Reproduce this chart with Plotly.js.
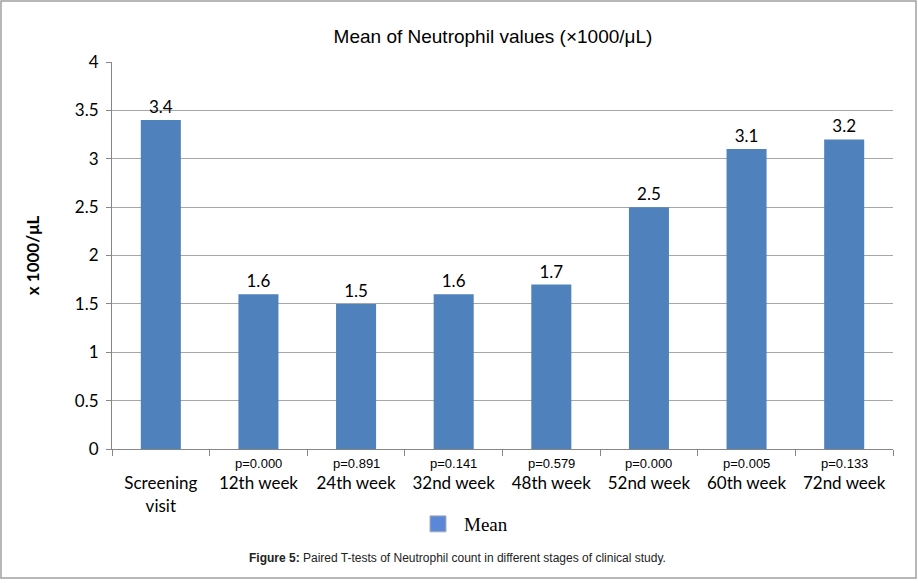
<!DOCTYPE html>
<html>
<head>
<meta charset="utf-8">
<script src="https://cdn.plot.ly/plotly-3.0.1.min.js"></script>
<style>html,body{margin:0;padding:0;background:#fff;}#chart{width:918px;height:583px;}</style>
</head>
<body>
<div id="chart"></div>
<script>
const categories = ["Screening visit", "12th week", "24th week", "32nd week", "48th week", "52nd week", "60th week", "72nd week"];
const meanValues = [3.4, 1.6, 1.5, 1.6, 1.7, 2.5, 3.1, 3.2];
const pValues = ["", "p=0.000", "p=0.891", "p=0.141", "p=0.579", "p=0.000", "p=0.005", "p=0.133"];
const tickLabels = ["Screening<br>visit", "12th week", "24th week", "32nd week", "48th week", "52nd week", "60th week", "72nd week"];
const yTicks = [0, 0.5, 1, 1.5, 2, 2.5, 3, 3.5, 4];

const L = 112, R = 893, T = 62, B = 449;
const px = x => (x - L) / (R - L);
const py = y => (B - y) / (B - T);

const barTrace = {
  type: "bar",
  x: categories,
  y: meanValues,
  name: "Mean",
  showlegend: false,
  marker: {color: "#4f81bd"},
  text: meanValues.map(v => v.toFixed(1)),
  textposition: "outside",
  textfont: {family: "Lato, Carlito, sans-serif", size: 17, color: "#000"},
  cliponaxis: false
};

const legendTrace = {
  type: "scatter", mode: "markers",
  x: [null], y: [null],
  name: "Mean",
  showlegend: true,
  marker: {symbol: "square", size: 19, color: "#5b87d9", line: {color: "#b0b0b0", width: 1}}
};

const pAnnotations = categories.map((c, i) => ({
  xref: "x", yref: "paper", x: c, y: py(463), xanchor: "center", yanchor: "middle",
  showarrow: false, text: pValues[i],
  font: {family: "Arial, Liberation Sans", size: 13, color: "#000"}
})).filter(a => a.text);

const layout = {
  width: 918, height: 583,
  margin: {l: L, r: 918 - R, t: T, b: 583 - B},
  paper_bgcolor: "#fff", plot_bgcolor: "#fff",
  bargap: 0.59,
  showlegend: true,
  title: {text: "Mean of Neutrophil values (×1000/μL)", font: {family: "Arial, Liberation Sans", size: 19, color: "#000"},
          x: 493/918, xanchor: "center", y: 1 - 36/583, yanchor: "middle", xref: "container", yref: "container"},
  xaxis: {
    type: "category",
    tickmode: "array", tickvals: categories, ticktext: tickLabels,
    tickson: "boundaries", ticks: "outside", ticklen: 6, tickcolor: "#868686",
    ticklabelstandoff: 19,
    showline: true, linecolor: "#868686", linewidth: 1,
    tickfont: {family: "Lato, Carlito, sans-serif", size: 17, color: "#000"},
    showgrid: false, zeroline: false, automargin: false
  },
  yaxis: {
    range: [0, 4], tickvals: yTicks, ticktext: yTicks.map(String),
    ticks: "outside", ticklen: 5, tickcolor: "#868686",
    ticklabelstandoff: 4,
    showline: true, linecolor: "#868686", linewidth: 1,
    showgrid: true, gridcolor: "#a6a6a6", gridwidth: 1, zeroline: false,
    tickfont: {family: "Lato, Carlito, sans-serif", size: 17, color: "#000"},
    title: {text: "<b>x 1000/μL</b>", font: {family: "Lato, Carlito, sans-serif", size: 17, color: "#000"}, standoff: 30},
    automargin: false
  },
  legend: {orientation: "h", x: px(412), xanchor: "left", y: py(524), yanchor: "middle",
           font: {family: "Liberation Serif, Times New Roman, serif", size: 19, color: "#000"}, itemwidth: 42},
  annotations: pAnnotations.concat([{
    xref: "paper", yref: "paper", x: px(457), y: py(558), xanchor: "center", yanchor: "middle", showarrow: false,
    text: "<b>Figure 5:</b> Paired T-tests of Neutrophil count in different stages of clinical study.",
    font: {family: "Arial, Liberation Sans", size: 12, color: "#222"}
  }]),
  shapes: [
    {type: "rect", xref: "paper", yref: "paper", x0: px(1), x1: px(916), y0: py(1), y1: py(578),
     line: {color: "#a0a0a0", width: 1.5}, fillcolor: "rgba(0,0,0,0)", layer: "below"}
  ]
};

Plotly.newPlot("chart", [barTrace, legendTrace], layout, {displayModeBar: false, staticPlot: true});
</script>
</body>
</html>
